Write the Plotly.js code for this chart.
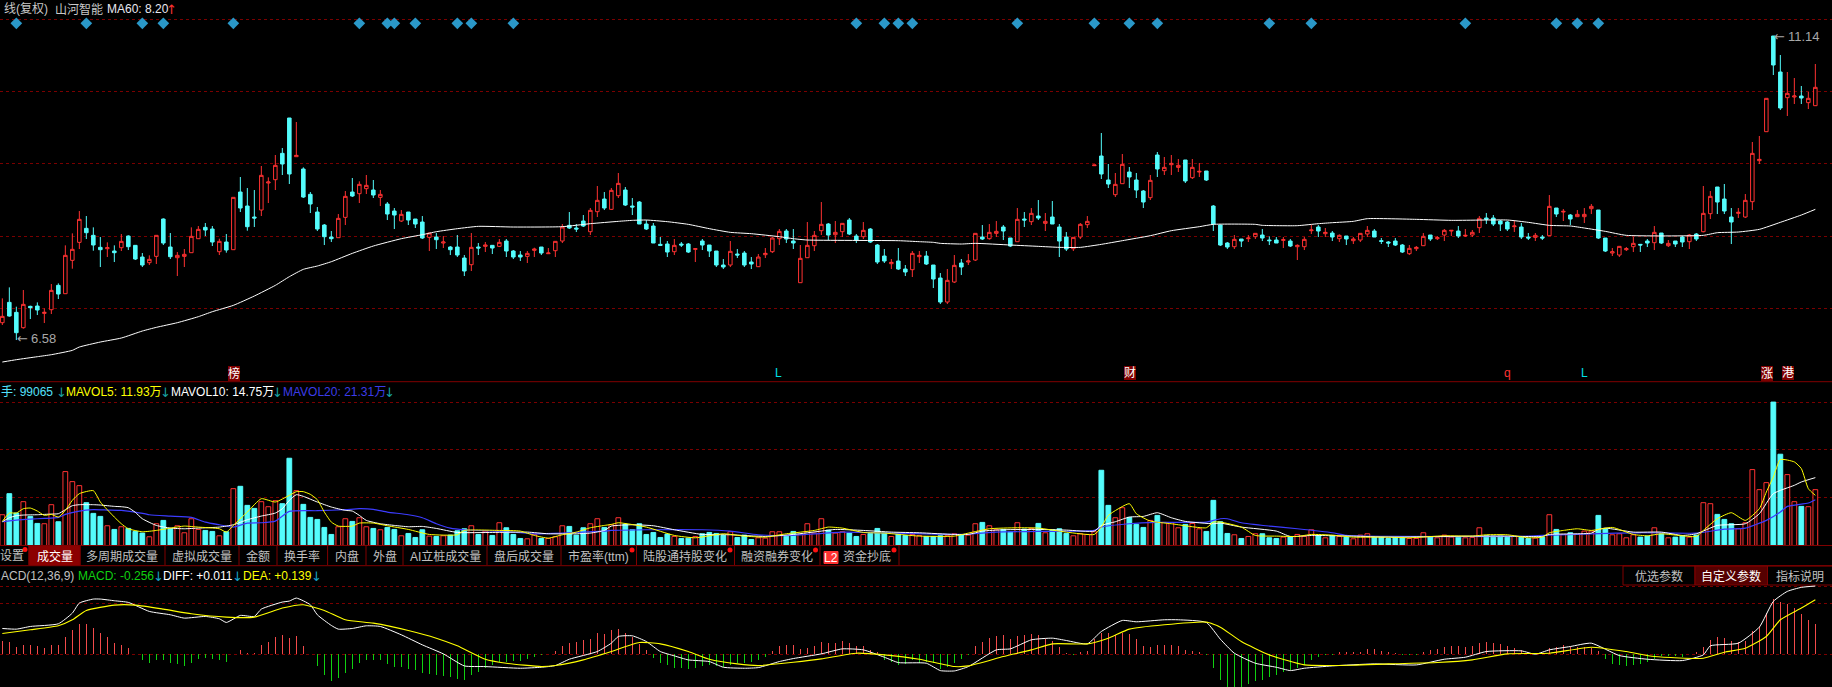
<!DOCTYPE html>
<html><head><meta charset="utf-8">
<script src="https://cdn.plot.ly/plotly-3.0.1.min.js"></script>
<style>html,body{margin:0;padding:0;background:#000;overflow:hidden}#c{width:1832px;height:687px}</style>
</head><body><div id="c"></div>
<script>
// R = close above open (red, hollow); C = close below open (cyan, filled)
var direction = ("RCCRCCRRCR"+"RRCCCRCRCC"+"CRRCCRRRRC"+"CRCRCCCRRR"+"CCRCCCCCRR"+
"CRRCRCCRCC"+"CRCRCCCRCR"+"CRCCCRRCRR"+"RCCCRRCRRC"+"CCCCCCRCCR"+
"CCCCRCCCRR"+"RRCCRRRRCR"+"RCCRCCCRCC"+"RRCCCRRCRR"+"CRRCCRCRCR"+
"CCCRRRRCCR"+"RCCCRCRRRC"+"RRCCCCRCRR"+"CCCRCRRRCR"+"CRCRRRCCCC"+
"CRRRCRRRCR"+"RRCCCCRCCR"+"CRCRCRRRCC"+"RRRRCCRCRC"+"CRCRRCCCRR"+"RRRCCRRCRR").split("");
var bodyTop = [
6.935,7.145,6.995,7.115,7.085,7.09,6.995,7.325,7.40,7.85,
7.94,8.39,8.255,8.15,7.97,7.965,7.915,8.06,8.14,8.0,
7.825,7.79,8.15,8.395,7.975,7.85,7.865,8.135,8.24,8.27,
8.245,8.06,8.05,8.72,8.80,8.59,8.425,9.05,8.95,9.20,
9.38,9.91,9.35,9.145,8.765,8.50,8.305,8.125,8.405,8.735,
8.80,8.915,8.90,8.83,8.765,8.62,8.515,8.465,8.50,8.395,
8.35,8.185,8.125,8.05,7.975,7.975,7.81,7.97,7.975,8.005,
8.0,8.045,8.065,7.915,7.855,7.88,7.945,7.975,7.885,8.06,
8.275,8.30,8.26,8.365,8.525,8.675,8.695,8.825,8.93,8.83,
8.59,8.65,8.32,8.29,8.015,8.02,8.0,8.02,8.02,7.95,
8.065,8.005,7.915,7.705,7.91,7.87,7.885,7.75,7.825,7.88,
8.11,8.21,8.215,8.065,7.805,8.0,8.15,8.315,8.32,8.195,
8.33,8.38,8.14,8.225,8.245,8.005,7.84,7.745,7.765,7.645,
7.88,7.85,7.84,7.705,7.51,7.475,7.70,7.735,7.765,8.18,
8.125,8.195,8.21,8.275,8.11,8.39,8.395,8.48,8.44,8.36,
8.425,8.275,8.125,8.12,8.315,8.36,9.205,9.34,8.98,8.915,
9.215,9.10,8.98,8.815,8.975,9.355,9.17,9.23,9.20,9.28,
9.17,9.11,9.115,8.59,8.305,8.035,8.09,8.095,8.11,8.18,
8.155,8.08,8.08,8.085,8.065,8.0,8.09,8.23,8.275,8.195,
8.185,8.15,8.14,8.095,8.18,8.225,8.215,8.07,8.05,8.065,
8.005,7.955,7.97,8.135,8.155,8.115,8.225,8.225,8.215,8.15,
8.195,8.405,8.41,8.41,8.365,8.35,8.29,8.275,8.125,8.15,
8.125,8.585,8.56,8.51,8.455,8.465,8.465,8.585,8.53,8.11,
7.905,7.985,7.95,8.03,8.015,8.065,8.195,8.185,8.03,8.065,
8.125,8.155,8.17,8.48,8.735,8.875,8.695,8.425,8.495,8.675,
9.38,9.29,10.205,11.14,10.60,10.28,10.24,10.24,10.205,10.37];
var bodyBottom = [
6.84,6.94,6.69,6.765,7.065,7.03,6.98,7.035,7.27,7.275,
7.775,8.045,8.19,8.005,7.935,7.95,7.89,7.965,7.98,7.795,
7.705,7.74,7.835,8.035,7.83,7.815,7.835,7.89,8.10,8.23,
8.05,7.905,7.93,7.935,8.56,8.28,8.41,8.53,8.935,8.985,
9.22,9.07,9.33,8.725,8.62,8.245,8.13,8.10,8.115,8.42,
8.74,8.775,8.85,8.755,8.72,8.47,8.455,8.365,8.38,8.32,
8.11,8.12,8.085,8.035,7.935,7.855,7.615,7.71,7.96,7.985,
7.96,7.985,7.915,7.825,7.825,7.835,7.925,7.885,7.875,7.92,
8.065,8.26,8.245,8.29,8.205,8.505,8.56,8.54,8.745,8.605,
8.575,8.32,8.245,8.035,8.0,7.90,7.905,8.005,7.90,7.94,
8.005,7.915,7.705,7.675,7.705,7.855,7.705,7.72,7.68,7.86,
7.905,8.10,8.095,8.035,7.44,7.815,7.995,8.22,8.155,8.16,
8.205,8.17,8.08,8.13,8.05,7.75,7.765,7.725,7.645,7.60,
7.635,7.83,7.72,7.495,7.15,7.15,7.45,7.675,7.75,7.78,
8.095,8.10,8.18,8.215,7.99,8.055,8.38,8.355,8.41,8.33,
8.32,8.065,7.945,7.95,8.125,8.31,9.195,9.07,8.92,8.76,
8.925,9.025,8.83,8.65,8.715,9.145,9.12,9.21,9.17,8.965,
9.015,9.10,8.98,8.32,8.005,7.975,7.98,8.065,8.10,8.13,
8.11,8.07,8.035,8.075,7.99,7.98,7.98,8.22,8.215,8.175,
8.125,8.10,8.095,8.07,8.08,8.17,8.125,8.06,8.035,8.005,
7.90,7.875,7.95,7.995,8.095,8.10,8.155,8.215,8.14,8.14,
8.155,8.265,8.39,8.32,8.32,8.245,8.28,8.125,8.11,8.12,
8.11,8.145,8.47,8.50,8.395,8.43,8.43,8.55,8.11,7.915,
7.885,7.855,7.935,7.98,8.005,8.035,8.04,8.035,7.995,8.02,
8.05,8.055,8.095,8.205,8.475,8.65,8.515,8.35,8.48,8.425,
8.655,9.27,9.705,10.705,10.06,10.215,10.225,10.21,10.14,10.095];
var highs = [
7.205,7.37,7.08,7.33,7.095,7.145,7.055,7.42,7.43,8.0,
8.18,8.515,8.44,8.27,8.125,8.045,8.0,8.17,8.15,8.005,
7.885,7.85,8.15,8.405,8.185,7.90,7.945,8.27,8.29,8.335,
8.29,8.10,8.17,8.72,9.025,8.86,8.83,9.19,9.02,9.355,
9.46,9.91,9.85,9.17,8.80,8.575,8.32,8.215,8.47,8.815,
9.01,8.96,9.055,8.98,8.83,8.65,8.56,8.53,8.50,8.395,
8.44,8.185,8.185,8.14,7.99,8.155,7.855,8.185,8.035,8.05,
8.0,8.095,8.095,7.93,7.915,7.915,7.965,7.975,7.96,8.065,
8.32,8.50,8.32,8.455,8.56,8.89,8.80,8.86,9.085,8.875,
8.71,8.665,8.38,8.335,8.125,8.065,8.095,8.05,8.035,7.96,
8.095,8.005,7.915,7.795,8.065,7.945,7.915,7.825,7.87,7.96,
8.125,8.245,8.245,8.245,8.005,8.35,8.215,8.65,8.335,8.365,
8.335,8.41,8.17,8.35,8.26,8.02,7.945,7.795,7.96,7.705,
7.915,7.915,7.915,7.705,7.585,7.645,7.855,7.795,7.87,8.18,
8.305,8.32,8.365,8.305,8.11,8.56,8.50,8.56,8.68,8.485,
8.665,8.32,8.20,8.12,8.335,8.44,9.205,9.685,9.22,9.085,
9.37,9.175,9.085,8.83,9.055,9.40,9.325,9.355,9.295,9.28,
9.295,9.235,9.115,8.605,8.305,8.05,8.155,8.095,8.155,8.18,
8.245,8.135,8.125,8.125,8.095,8.015,8.125,8.305,8.305,8.26,
8.215,8.165,8.14,8.125,8.185,8.29,8.245,8.11,8.065,8.11,
8.02,8.005,7.99,8.185,8.155,8.14,8.245,8.23,8.29,8.245,
8.23,8.44,8.485,8.455,8.38,8.365,8.365,8.335,8.185,8.185,
8.155,8.755,8.56,8.545,8.47,8.53,8.56,8.62,8.53,8.11,
7.96,7.99,7.975,8.125,8.015,8.095,8.29,8.185,8.08,8.065,
8.14,8.17,8.185,8.89,8.815,8.875,8.92,8.56,8.56,8.77,
9.55,9.64,10.205,11.14,10.855,10.60,10.51,10.39,10.30,10.72];
var lows = [
6.805,6.93,6.58,6.75,6.895,6.955,6.835,6.97,7.195,7.275,
7.65,7.945,8.095,7.92,7.675,7.825,7.75,7.915,7.93,7.78,
7.675,7.705,7.72,8.005,7.795,7.54,7.675,7.89,8.10,8.14,
7.99,7.855,7.89,7.935,8.50,8.22,8.275,8.44,8.635,8.83,
9.055,8.92,9.33,8.71,8.485,8.215,8.005,8.05,8.115,8.305,
8.725,8.635,8.77,8.71,8.59,8.38,8.245,8.35,8.305,8.26,
8.095,7.915,7.945,7.96,7.855,7.825,7.54,7.615,7.855,7.90,
7.87,7.975,7.825,7.795,7.765,7.735,7.825,7.855,7.875,7.825,
8.035,8.245,8.20,8.275,8.155,8.425,8.53,8.53,8.71,8.59,
8.455,8.32,8.23,8.035,7.99,7.825,7.855,7.975,7.885,7.75,
7.93,7.825,7.675,7.645,7.675,7.81,7.675,7.645,7.675,7.81,
7.885,8.005,8.035,7.945,7.44,7.815,7.915,8.155,8.08,8.035,
8.125,8.155,8.035,8.095,8.035,7.72,7.735,7.645,7.63,7.54,
7.525,7.735,7.705,7.36,7.12,7.12,7.435,7.555,7.705,7.765,
8.08,8.085,8.125,8.08,7.975,8.055,8.275,8.305,8.38,8.215,
8.32,7.825,7.915,7.915,8.095,8.26,9.195,8.995,8.86,8.725,
8.925,8.86,8.71,8.56,8.68,9.025,9.055,9.055,9.10,8.935,
8.995,9.025,8.965,8.215,7.99,7.945,7.945,7.975,8.05,8.095,
8.065,8.005,8.035,7.96,7.975,7.78,7.93,8.17,8.125,8.125,
8.065,8.05,8.005,8.02,8.05,8.125,8.125,8.02,7.975,7.99,
7.885,7.855,7.915,7.99,8.065,8.08,8.065,8.14,8.11,8.125,
8.125,8.185,8.32,8.29,8.215,8.215,8.20,8.095,8.08,8.065,
8.08,8.14,8.425,8.365,8.305,8.425,8.335,8.47,8.095,7.90,
7.84,7.825,7.915,7.90,7.90,7.975,7.93,8.02,7.975,7.975,
7.975,7.945,8.065,8.195,8.395,8.47,8.47,8.02,8.41,8.41,
8.53,9.22,9.705,10.555,10.03,9.94,10.12,10.12,10.045,10.09];
// MA60, as read at these candle positions
var ma60Pos = [0,2,5,7,10,11,14,17,20,22,25,28,30,33,36,39,41,43,45,47,50,53,57,60,62,65,
68,73,80,84,88,90,92,95,98,101,104,107,111,113,115,128,131,
133,134,137,139,144,148,151,154,157,160,164,167,171,173,179,180,185,188,190,193,195,
202,207,215,218,221,224,226,229,232,243,245,248,251,254,257,259];
var ma60 = [6.25,6.285,6.33,6.36,6.425,6.475,6.55,6.61,6.715,6.77,6.84,6.93,7.005,7.10,7.24,7.40,7.53,7.64,7.69,7.755,7.88,7.99,8.10,8.16,8.205,8.25,
8.285,8.275,8.28,8.325,8.36,8.375,8.38,8.355,8.315,8.25,8.195,8.175,8.13,8.10,8.08,8.07,8.055,
8.045,8.03,8.02,8.03,8.005,7.985,7.97,7.97,8.015,8.07,8.145,8.22,8.28,8.315,8.315,8.30,8.295,8.325,8.34,8.36,8.40,
8.39,8.375,8.38,8.345,8.30,8.29,8.26,8.21,8.15,8.15,8.19,8.20,8.24,8.345,8.455,8.54];
var signalPos = [2,12,20,23,33,51,55,56,59,65,67,73,122,126,128,130,145,156,161,165,181,187,209,222,225,228];
var signalLevel = 11.33;
// Volume in units of 10,000 lots (万)
var volume = [
5.52,9.3,5.82,7.86,5.22,3.96,3.9,7.32,4.26,13.26,
11.46,10.74,7.68,5.76,5.22,3.54,2.88,3.36,3.06,2.52,
2.22,1.56,3.9,4.5,3.0,3.54,2.28,4.8,2.88,2.7,
2.52,1.74,2.46,10.2,10.62,7.2,6.66,7.86,6.96,8.04,
7.5,15.66,9.84,7.38,5.04,4.68,3.24,1.98,3.36,4.8,
4.32,4.98,3.36,3.06,2.82,3.24,2.88,1.74,2.16,1.44,
2.82,1.68,1.62,1.74,1.86,2.64,3.0,3.54,1.98,2.58,
1.8,4.08,3.18,1.98,1.26,1.2,1.98,1.26,1.26,1.56,
3.54,3.42,1.86,3.18,3.9,4.8,3.24,3.72,4.98,3.84,
2.82,3.9,1.98,2.34,1.44,2.04,1.62,1.26,1.32,1.62,
2.1,2.34,2.16,1.8,2.46,1.44,1.86,1.08,1.38,1.32,
2.46,2.46,1.68,2.52,1.98,3.9,2.22,4.8,2.76,2.22,
2.46,2.22,1.62,1.98,2.16,3.06,2.28,1.62,2.04,1.8,
1.98,1.8,1.62,1.62,1.74,1.74,2.1,1.92,1.86,3.9,
4.14,3.54,2.82,2.88,2.4,4.08,2.94,3.06,3.96,2.28,
2.82,3.0,2.16,1.74,2.1,1.98,2.46,13.5,7.2,4.98,
6.78,5.04,3.78,3.24,4.5,5.4,4.14,4.08,3.18,3.78,
3.96,3.0,2.52,8.1,4.26,2.16,1.92,1.26,1.62,2.1,
2.1,1.38,1.26,1.5,1.5,1.98,1.62,2.82,1.74,1.38,
1.8,1.62,1.5,1.2,1.86,2.1,1.5,1.5,1.26,1.5,
1.38,1.26,1.26,2.28,1.5,1.38,1.86,1.5,1.5,1.38,
1.44,3.18,1.74,1.68,1.68,1.5,1.62,1.5,1.26,1.32,
1.5,5.52,2.88,1.98,2.28,1.98,2.58,2.58,5.4,3.0,
1.92,2.1,1.38,1.92,1.5,1.68,3.18,2.1,1.38,1.5,
1.74,1.5,1.86,7.68,7.5,5.58,4.68,3.9,3.0,4.08,
13.62,10.02,11.28,25.74,16.38,12.72,7.86,7.02,6.96,10.02];
var mavol5Pos = [0,1,2,3,4,5,6,7,8,9,10,11,13,14,16,17,18,20,22,24,26,28,31,32,33,35,37,39,41,42,43,44,45,46,47,48,50,51,53,55,58,61,65,66,71,74,76,78,80,82,84,86,
87,88,92,96,99,103,106,109,112,116,118,120,123,126,131,136,138,141,145,148,152,156,157,158,161,162,164,167,172,173,
174,177,179,182,185,187,190,193,198,201,206,210,212,215,218,220,221,223,225,227,230,233,235,237,242,243,245,247,249,251,252,253,254,256,257,258,259];
var mavol5 = [4.32,5.82,5.82,6.6,6.72,6.18,5.4,5.58,5.1,6.3,8.1,9.3,9.84,7.8,5.1,3.9,3.0,2.46,2.7,3.12,3.48,3.3,3.0,2.4,3.6,6.0,8.4,7.8,9.0,9.66,9.66,9.18,8.22,6.0,4.2,3.48,3.48,4.02,4.02,3.54,2.88,1.98,1.92,2.7,2.7,2.58,1.8,1.32,1.92,2.4,3.18,3.6,
3.78,4.08,3.3,1.8,1.38,2.1,1.68,1.5,2.1,2.7,3.3,3.12,2.34,2.22,1.68,1.68,2.22,3.0,3.18,3.12,2.4,1.98,3.3,5.4,7.5,5.7,4.38,3.9,3.18,4.2,
4.2,3.3,1.8,1.68,1.62,1.98,1.86,1.5,1.5,1.38,1.74,1.68,1.92,1.92,1.38,1.5,2.28,2.7,3.0,2.7,3.24,1.98,1.74,2.1,1.62,2.7,4.8,5.88,4.5,6.6,9.6,12.3,15.42,15.0,13.8,10.2,9.0];
var mavol10Pos = [0,1,2,3,5,7,8,9,10,11,13,14,16,17,18,19,20,22,24,26,28,31,33,35,37,39,40,41,42,43,45,47,49,50,51,52,54,56,58,60,62,65,70,75,78,82,84,86,
87,90,93,96,100,104,109,113,117,119,123,127,131,136,138,140,143,148,152,156,157,159,161,163,165,167,169,173,
174,177,182,184,187,193,198,210,215,220,221,227,228,229,233,237,240,242,245,249,251,253,256,257,259];
var mavol10 = [4.26,4.98,5.34,5.46,5.52,5.64,5.7,6.42,7.14,7.32,7.32,7.26,7.02,6.96,6.78,5.94,4.8,3.6,3.12,3.0,3.12,3.3,3.72,4.62,5.28,5.82,6.6,8.1,9.12,8.82,7.8,6.9,6.3,6.18,5.4,4.5,3.9,3.6,3.36,3.42,3.06,2.34,2.34,2.4,2.1,2.1,2.22,2.7,
3.48,3.72,3.54,2.82,1.98,1.92,1.62,1.98,2.58,2.88,2.7,2.4,2.28,1.98,1.98,2.58,2.82,2.88,2.76,2.58,3.6,4.26,5.1,5.22,5.88,4.98,4.32,3.9,
4.02,3.3,2.58,1.62,1.8,1.68,1.5,1.68,1.68,1.62,1.98,2.22,2.88,3.12,2.4,2.4,1.8,2.1,3.6,3.9,5.7,9.3,10.8,11.4,12.18];
var mavol20Pos = [0,2,4,6,8,9,11,13,15,17,19,21,24,27,29,31,33,35,37,39,41,45,49,51,53,55,58,60,62,64,66,72,76,80,86,
87,92,100,104,108,113,120,137,142,148,156,157,161,165,172,174,175,177,181,185,190,192,198,217,220,227,234,242,246,249,252,254,255,258,259];
var mavol20 = [4.26,4.56,4.74,4.86,5.04,5.58,6.18,6.42,6.36,6.3,6.0,5.52,5.28,5.04,4.2,3.72,3.3,4.02,4.08,4.38,6.12,6.24,6.42,6.6,6.48,6.0,5.52,4.98,3.9,3.12,2.82,2.46,2.1,2.22,2.58,
2.7,2.82,2.82,2.58,1.92,1.8,2.4,1.98,2.4,2.52,2.7,3.3,3.9,4.14,4.2,4.8,4.8,4.08,3.48,3.0,2.28,1.8,1.62,1.62,1.8,2.1,2.28,2.22,2.94,3.12,4.5,6.0,7.02,7.62,8.22];
// MACD histogram, DIFF and DEA
var macdHist = [
.078,.074,.042,.054,.054,.05,.038,.054,.054,.104,
.146,.182,.182,.158,.128,.104,.068,.056,.038,.002,
-.034,-.05,-.034,-.034,-.05,-.058,-.07,-.054,-.028,-.02,
-.028,-.034,-.046,.002,.026,.006,.006,.056,.074,.104,
.116,.098,.11,.05,.002,-.07,-.124,-.16,-.142,-.112,
-.088,-.052,-.034,-.034,-.034,-.058,-.076,-.076,-.088,-.094,
-.112,-.118,-.124,-.13,-.136,-.148,-.154,-.124,-.106,-.082,
-.064,-.046,-.046,-.04,-.04,-.028,-.014,-.004,0,.02,
.05,.068,.074,.086,.092,.128,.122,.142,.152,.128,
.104,.062,.026,-.024,-.052,-.064,-.082,-.082,-.088,-.082,
-.07,-.064,-.07,-.076,-.064,-.052,-.054,-.048,-.034,-.016,
.02,.05,.056,.054,.032,.038,.05,.074,.068,.068,
.08,.068,.05,.05,.026,.014,-.034,-.046,-.064,-.058,
-.034,-.052,-.046,-.054,-.088,-.076,-.052,-.028,-.004,.05,
.074,.098,.11,.116,.092,.11,.116,.122,.116,.092,
.08,.044,.006,-.002,.014,.02,.092,.128,.128,.116,
.128,.122,.092,.05,.044,.054,.054,.054,.05,.026,
.02,.012,-.004,-.082,-.154,-.194,-.196,-.196,-.178,-.16,
-.154,-.136,-.124,-.106,-.094,-.082,-.064,-.034,-.016,-.002,
-.004,.014,.012,.014,.014,.032,.032,.02,.014,.008,
-.004,-.004,-.004,.014,.026,.032,.044,.05,.05,.044,
.05,.068,.074,.068,.062,.05,.038,.026,.014,.002,
.004,.038,.044,.054,.044,.044,.044,.038,.02,-.028,
-.058,-.064,-.07,-.064,-.058,-.046,-.028,-.01,-.008,-.01,
-.014,.002,.014,.044,.086,.104,.098,.08,.074,.08,
.14,.164,.248,.332,.314,.302,.278,.242,.206,.182];
var diffPos = [0,2,4,8,10,11,13,14,16,18,21,24,26,29,31,32,34,36,37,40,41,42,44,45,47,48,50,52,54,57,60,63,66,69,74,77,79,81,85,87,
88,90,92,94,96,98,101,103,106,108,111,113,117,120,123,126,128,132,134,136,138,142,144,147,150,152,155,157,160,162,166,168,172,174,
176,179,182,184,186,190,196,202,206,209,212,217,219,221,224,227,231,235,240,243,244,248,251,253,255,257,259];
var diff = [.154,.15,.166,.182,.246,.306,.33,.33,.32,.31,.256,.236,.216,.226,.212,.19,.232,.226,.27,.312,.318,.336,.296,.236,.172,.15,.154,.17,.166,.116,.056,.002,-.07,-.074,-.084,-.078,-.068,-.03,.016,.066,
.106,.11,.076,.016,-.01,-.034,-.044,-.078,-.084,-.08,-.044,-.026,.002,.032,.026,-.018,-.05,-.054,-.098,-.1,-.074,.026,.032,.086,.096,.082,.062,.136,.202,.194,.206,.206,.19,.09,
.006,-.054,-.078,-.098,-.084,-.07,-.058,-.064,-.03,-.018,.016,.02,0,.026,.046,.066,-.008,-.03,-.038,-.004,.05,.066,.162,.316,.376,.4,.408];
var deaPos = [0,4,8,10,12,16,19,23,27,32,36,40,43,46,49,53,58,62,65,69,72,77,79,83,87,
91,94,98,101,105,108,113,117,122,126,131,136,138,143,147,150,155,158,161,166,172,174,
177,181,186,193,198,205,210,215,221,227,232,236,243,246,249,252,254,257,259];
var dea = [.124,.146,.17,.206,.262,.294,.294,.27,.242,.222,.222,.276,.296,.262,.206,.186,.142,.096,.05,-.03,-.054,-.074,-.068,-.034,.016,
.07,.062,.016,-.03,-.058,-.068,-.048,-.028,.006,-.004,-.03,-.074,-.07,-.014,.026,.062,.062,.096,.15,.176,.192,.162,
.076,-.004,-.064,-.066,-.058,-.05,-.034,.002,.006,.042,.016,-.014,-.024,.012,.036,.106,.206,.276,.326];
var priceGrid = [11.39,10.31,9.23,8.135,7.055];
var volumeGrid = [8.58,17.16,25.7];
var macdGrid = [0,.306,.406];
var tabLabels = ["设置","成交量","多周期成交量","虚拟成交量","金额","换手率","内盘","外盘","AI立桩成交量","盘后成交量","市盈率(ttm)","陆股通持股变化","融资融券变化","资金抄底"];
var buttonLabels = ["优选参数","自定义参数","指标说明"];

// ---- layout helpers ----
var W=1832,H=687;
var RED="#ff3232",CYAN="#54fcfc",GRID="#7a0000",LINE="#800000";
var FONT='"Liberation Sans","Noto Sans CJK SC",sans-serif';
var ARROW='"DejaVu Sans",sans-serif';
function px(x){return x/W;} function py(y){return 1-y/H;}
function T(x,y,text,color,anchor,extra){
  var a={xref:"paper",yref:"paper",x:px(x),y:py(y),text:text,showarrow:false,xanchor:anchor||"left",yanchor:"middle",
    font:{family:FONT,size:12,color:color},borderpad:0,borderwidth:0};
  if(extra) for(var k in extra) a[k]=extra[k];
  return a;
}
function AR(x,y,glyph,color){return T(x,y,glyph,color,"left",{font:{family:ARROW,size:13,color:color}});}
function HL(y,x0,x1,c){return {type:"line",xref:"paper",yref:"paper",x0:px(x0),x1:px(x1),y0:py(y),y1:py(y),line:{color:c||LINE,width:1}};}
function VL(x,y0,y1,c){return {type:"line",xref:"paper",yref:"paper",x0:px(x),x1:px(x),y0:py(y0),y1:py(y1),line:{color:c||LINE,width:1}};}
function RC(x0,y0,x1,y1,fill,line){return {type:"rect",layer:"below",xref:"paper",yref:"paper",x0:px(x0),x1:px(x1),y0:py(y0),y1:py(y1),fillcolor:fill,line:{color:line||fill,width:1}};}
function DOT(x,y){return {type:"circle",xref:"paper",yref:"paper",x0:px(x-2.5),x1:px(x+2.5),y0:py(y-2.5),y1:py(y+2.5),fillcolor:"#ff1010",line:{width:0}};}

var idx=volume.map(function(_,i){return i;});
var opens=direction.map(function(d,i){return d==="R"?bodyBottom[i]:bodyTop[i];});
var closes=direction.map(function(d,i){return d==="R"?bodyTop[i]:bodyBottom[i];});
var volFill=direction.map(function(d){return d==="R"?"#000000":CYAN;});
var volLine=direction.map(function(d){return d==="R"?RED:CYAN;});
var histColor=macdHist.map(function(v){return v>=0?"#f24a4a":"#10d010";});
var SM={shape:"spline",smoothing:0.5};
function L(c,w,smooth){var o={color:c,width:w};if(smooth){o.shape=SM.shape;o.smoothing=SM.smoothing;}return o;}

var traces=[
 {type:"candlestick",x:idx,open:opens,high:highs,low:lows,close:closes,xaxis:"x",yaxis:"y",whiskerwidth:0,
  increasing:{line:{color:RED,width:1},fillcolor:"#000000"},decreasing:{line:{color:CYAN,width:1},fillcolor:CYAN},hoverinfo:"skip"},
 {type:"scatter",mode:"lines",x:ma60Pos,y:ma60,xaxis:"x",yaxis:"y",line:L("#ffffff",1,true),hoverinfo:"skip"},
 {type:"scatter",mode:"markers",x:signalPos,y:signalPos.map(function(){return signalLevel;}),xaxis:"x",yaxis:"y",
  marker:{symbol:"diamond",size:9,color:"#2a98c8"},hoverinfo:"skip"},
 {type:"bar",x:idx,y:volume,xaxis:"x",yaxis:"y2",width:0.68,marker:{color:volFill,line:{color:volLine,width:1}},hoverinfo:"skip"},
 {type:"scatter",mode:"lines",x:mavol20Pos,y:mavol20,xaxis:"x",yaxis:"y2",line:L("#3c3cff",1.2,true),hoverinfo:"skip"},
 {type:"scatter",mode:"lines",x:mavol10Pos,y:mavol10,xaxis:"x",yaxis:"y2",line:L("#ffffff",1,true),hoverinfo:"skip"},
 {type:"scatter",mode:"lines",x:mavol5Pos,y:mavol5,xaxis:"x",yaxis:"y2",line:L("#ffff00",1,true),hoverinfo:"skip"},
 {type:"bar",x:idx,y:macdHist,xaxis:"x",yaxis:"y3",width:0.16,marker:{color:histColor,line:{width:0}},hoverinfo:"skip"},
 {type:"scatter",mode:"lines",x:diffPos,y:diff,xaxis:"x",yaxis:"y3",line:L("#ffffff",1,true),hoverinfo:"skip"},
 {type:"scatter",mode:"lines",x:deaPos,y:dea,xaxis:"x",yaxis:"y3",line:L("#ffff00",1.1,true),hoverinfo:"skip"}
];

var yBase={showticklabels:false,ticks:"",zeroline:false,showline:false,showgrid:true,gridcolor:GRID,gridwidth:1,griddash:"dot",tickmode:"array"};
function Y(o){var r={};for(var k in yBase)r[k]=yBase[k];for(var k2 in o)r[k2]=o[k2];return r;}

var ann=[
 T(4,9,"线(复权)","#c8c8c8"),
 T(55,9,"山河智能","#c8c8c8"),
 T(107,9,"MA60: 8.20","#e8e8f0"),
 AR(166,9,"↑",RED),
 AR(17,338,"←","#a8a8a8"),
 T(31,338,"6.58","#a8a8a8","left",{font:{family:FONT,size:13,color:"#a8a8a8"}}),
 AR(1774,36,"←","#a8a8a8"),
 T(1788,36,"11.14","#a8a8a8","left",{font:{family:FONT,size:13,color:"#a8a8a8"}}),
 T(1,392,"手: 99065","#54e0fc"),
 AR(56,392,"↓","#18a0a0"),
 T(66,392,"MAVOL5: 11.93万","#ffff00"),
 AR(160,392,"↓","#18a0a0"),
 T(171,392,"MAVOL10: 14.75万","#ffffff"),
 AR(272,392,"↓","#18a0a0"),
 T(283,392,"MAVOL20: 21.31万","#3c3ce8"),
 AR(384,392,"↓","#18a0a0"),
 T(1,576,"ACD(12,36,9)","#c0c0c0"),
 T(78,576,"MACD: -0.256","#10d010"),
 AR(153,576,"↓","#18a0c8"),
 T(163,576,"DIFF: +0.011","#ffffff"),
 AR(232,576,"↓","#18a0c8"),
 T(243,576,"DEA: +0.139","#ffff00"),
 AR(311,576,"↓","#18a0c8"),
 T(234,373,"榜","#ffffff","center",{bgcolor:"#800000"}),
 T(778,373,"L","#00e0e8","center"),
 T(1130,373,"财","#ffffff","center",{bgcolor:"#800000"}),
 T(1507,373,"q",RED,"center"),
 T(1584,373,"L","#00e0e8","center"),
 T(1767,373,"涨","#ffffff","center",{bgcolor:"#800000"}),
 T(1788,373,"港","#ffffff","center",{bgcolor:"#800000"}),
 T(831,557.5,"L2","#ffffff","center"),
 T(1659,576,buttonLabels[0],"#c0c0c0","center"),
 T(1731,576,buttonLabels[1],"#ffffff","center"),
 T(1800,576,buttonLabels[2],"#c0c0c0","center")
];
var tabCenters=[12,54.5,122,202,258,302,347,384.5,445,524,598,685,777,867];
tabLabels.forEach(function(t,i){ann.push(T(tabCenters[i],556,t,i===1?"#ffffff":"#c0c0c0","center"));});

var shapes=[HL(381.7,0,W),HL(545.5,0,W),HL(565.7,0,W),
 RC(29,546,80,565,"#8b0000"),
 RC(824,551.5,838,563.5,"#ff3232"),
 RC(1623,566,1695,585,"#000000",LINE),
 RC(1695,566,1767.5,585,"#550000",LINE),
 RC(1767.5,566,1833,585,"#000000",LINE),
 DOT(25,549.5),DOT(632,550),DOT(730,550),DOT(815.5,550),DOT(894,550)];
[29,80,165,239,277,327.6,366,403,487,561,636.5,734.5,820,899].forEach(function(x){shapes.push(VL(x,546,565));});

var layout={width:W,height:H,margin:{l:0,r:0,t:0,b:0,pad:0},paper_bgcolor:"#000",plot_bgcolor:"#000",showlegend:false,
 barmode:"overlay",bargap:0,boxgap:0.28,
 xaxis:{domain:[0,1],range:[-0.333,261.38],visible:false,fixedrange:true,rangeslider:{visible:false},anchor:"y3"},
 yaxis:Y({domain:[0.4444,1],range:[5.955,11.68],tickvals:priceGrid}),
 yaxis2:Y({domain:[0.2060,0.4444],range:[0,29.4],tickvals:volumeGrid}),
 yaxis3:Y({domain:[0,0.1766],range:[-0.1962,0.5298],tickvals:macdGrid}),
 annotations:ann,shapes:shapes};
Plotly.newPlot("c",traces,layout,{staticPlot:true,displayModeBar:false});
</script></body></html>
